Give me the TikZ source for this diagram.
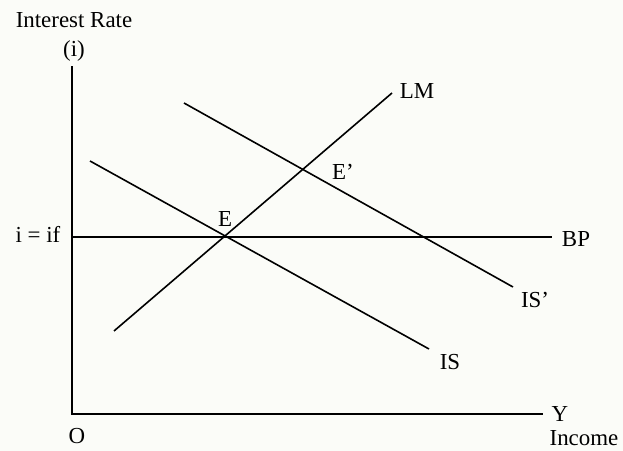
\documentclass[tikz,border=0pt]{standalone}
\usepackage{fontspec}
\setmainfont{Liberation Serif}
\usepackage{tikz}
\usetikzlibrary{calc}
\definecolor{paper}{HTML}{FBFCF8}

\begin{document}
\begin{tikzpicture}[
    x=1bp, y=-1bp,
    axis/.style={line width=1.6bp, color=black, line cap=rect},
    curve/.style={line width=1.6bp, color=black},
    lbl/.style={font=\fontsize{23}{27}\selectfont, anchor=base, inner sep=0pt},
]

% ── Page and margins ─────────────────────────────────────────
\fill[paper] (0,0) rectangle (623,451);
\useasboundingbox (0,0) rectangle (623,451);

% ── Axes ─────────────────────────────────────────────────────
\coordinate (origin) at (72,414);
\coordinate (yTop)   at (72,67);
\coordinate (xEnd)   at (542,414);
\draw[axis] (yTop) -- (origin) -- (xEnd);

\node[lbl] (ylabel)  at (74,28)  {Interest Rate};
\node[lbl] (ysym)    at (74,57)  {(i)};
\node[lbl] (xsym)    at (560,421) {Y};
\node[lbl] (xlabel)  at (584,445) {Income};
\node[lbl] (olabel)  at (77,443) {O};

% ── BP line (i = if) ─────────────────────────────────────────
\coordinate (bpStart) at (72,237);
\coordinate (bpEnd)   at (552,237);
\draw[curve] (bpStart) -- (bpEnd);
\node[lbl] (iflabel) at (38,243)  {i = if};
\node[lbl] (bplabel) at (576,247) {BP};

% ── LM, IS and shifted IS' ───────────────────────────────────
\coordinate (lmStart)  at (114,331);
\coordinate (lmEnd)    at (392,93);
\coordinate (isStart)  at (90,161);
\coordinate (isEnd)    at (429,349);
\coordinate (is2Start) at (184,103);
\coordinate (is2End)   at (513,287);
\draw[curve] (lmStart)  -- (lmEnd);
\draw[curve] (isStart)  -- (isEnd);
\draw[curve] (is2Start) -- (is2End);

\node[lbl] (lmlabel)  at (417,99)  {LM};
\node[lbl] (islabel)  at (450,369) {IS};
\node[lbl] (is2label) at (535,308) {IS’};

% ── Equilibrium points ───────────────────────────────────────
\node[lbl] (elabel)  at (225,227) {E};
\node[lbl] (e2label) at (343,180) {E’};

\end{tikzpicture}
\end{document}
